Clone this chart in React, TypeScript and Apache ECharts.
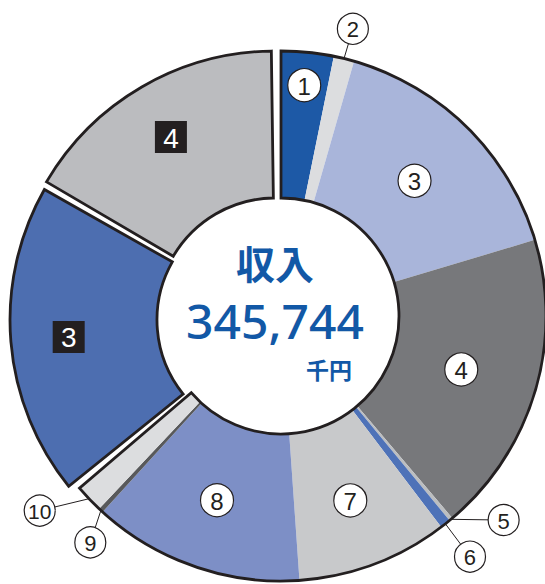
import React, { useEffect, useRef } from 'react';
import * as echarts from 'echarts';

// ---- data ----
const TITLE = '収入';
const TOTAL_TEXT = '345,744';
const UNIT = '千円';

const mainLabels = ['1', '2', '3', '4', '5', '6', '7', '8', '9', '10'];
const mainValues = [11147, 4362, 55541, 64362, 775, 2229, 32181, 44879, 969, 6010];

const splitLabels = ['3', '4'];
const splitValues = [66300, 56989];

// ---- style ----
const W = 545;
const H = 584;
const CX = 281;
const CY = 316;
const R_IN = 118;
const R_OUT = 265;
const INK = '#231f20';
const BLUE_TEXT = '#1258a6';
const BORDER_W = 2.8;

const mainColors = ['#1d59a6', '#dcdddf', '#a9b5da', '#77787b', '#bcbec0', '#4e72b8', '#c8c9cb', '#7d8fc6', '#58595b', '#dcdddf'];
const splitColors = ['#4d6eb0', '#bbbcbf'];
const gapDegrees = [1.6, 0.9, 0.79]; // 10→■3, ■3→■4, ■4→1
const splitShift: [number, number][] = [[-6, 4], [-6, 0]]; // exploded pieces ■3, ■4

const insideLabelRadius: Record<string, number> = { '1': 232, '3': 190, '4': 188, '7': 197, '8': 195 };
const outsidePlacement: Record<string, [number, number]> = {
  '2': [0.3, 296],
  '5': [-7.6, 302],
  '6': [0.2, 306],
  '9': [-2.7, 296],
  '10': [4.7, 310],
};
const SPLIT_LABEL_R = 207;

function polar(deg: number, r: number, cx = CX, cy = CY): [number, number] {
  const a = (deg * Math.PI) / 180;
  return [cx + r * Math.sin(a), cy - r * Math.cos(a)];
}

function buildOption() {
  const dataSum = mainValues.reduce((a, b) => a + b, 0) + splitValues.reduce((a, b) => a + b, 0);
  const gapTotalDeg = gapDegrees.reduce((a, b) => a + b, 0);
  const gapVals = gapDegrees.map((d) => (dataSum * d) / (360 - gapTotalDeg));

  const blank = { color: 'rgba(0,0,0,0)', borderWidth: 0 };
  type Item = { kind: 'main' | 'split' | 'gap'; label: string; value: number; color: string; splitIndex: number };
  const seq: Item[] = [];
  mainValues.forEach((v, i) => seq.push({ kind: 'main', label: mainLabels[i], value: v, color: mainColors[i], splitIndex: -1 }));
  seq.push({ kind: 'gap', label: '', value: gapVals[0], color: '', splitIndex: -1 });
  seq.push({ kind: 'split', label: splitLabels[0], value: splitValues[0], color: splitColors[0], splitIndex: 0 });
  seq.push({ kind: 'gap', label: '', value: gapVals[1], color: '', splitIndex: -1 });
  seq.push({ kind: 'split', label: splitLabels[1], value: splitValues[1], color: splitColors[1], splitIndex: 1 });
  seq.push({ kind: 'gap', label: '', value: gapVals[2], color: '', splitIndex: -1 });

  const total = seq.reduce((a, b) => a + b.value, 0);
  let cum = 0;
  const mids: number[] = seq.map((it) => {
    const s = (cum / total) * 360;
    cum += it.value;
    const e = (cum / total) * 360;
    return (s + e) / 2;
  });

  const mainData = seq.map((it) =>
    it.kind === 'main'
      ? { value: it.value, name: it.label, itemStyle: { color: it.color, borderWidth: 0 } }
      : { value: it.value, name: 'other', itemStyle: blank }
  );

  const mainSum = mainValues.reduce((a, b) => a + b, 0);
  const outlineData = [
    { value: mainSum, name: 'main', itemStyle: { color: 'rgba(0,0,0,0)', borderColor: INK, borderWidth: BORDER_W, borderJoin: 'miter' } },
    { value: total - mainSum, name: 'rest', itemStyle: blank },
  ];

  const common = {
    type: 'pie',
    radius: [R_IN, R_OUT],
    startAngle: 90,
    clockwise: true,
    silent: true,
    label: { show: false },
    labelLine: { show: false },
    emphasis: { disabled: true },
    avoidLabelOverlap: false,
  };

  const splitSeries = splitValues.map((_, k) => ({
    ...common,
    name: 'split' + k,
    center: [CX + splitShift[k][0], CY + splitShift[k][1]],
    z: 4,
    data: seq.map((it) =>
      it.kind === 'split' && it.splitIndex === k
        ? {
            value: it.value,
            name: '■' + it.label,
            itemStyle: { color: it.color, borderColor: INK, borderWidth: BORDER_W, borderJoin: 'miter' },
          }
        : { value: it.value, name: 'other', itemStyle: blank }
    ),
  }));

  const textStyle = (text: string, fill: string, font: string) => ({
    text, fill, font, textAlign: 'center', textVerticalAlign: 'middle', align: 'center', verticalAlign: 'middle',
  });

  const graphics: any[] = [];
  seq.forEach((it, i) => {
    if (it.kind === 'gap') return;
    const mid = mids[i];
    if (it.kind === 'split') {
      const sh = splitShift[it.splitIndex];
      const [x, y] = polar(mid, SPLIT_LABEL_R, CX + sh[0], CY + sh[1]);
      graphics.push({ type: 'rect', z: 20, shape: { x: x - 16, y: y - 16, width: 32, height: 32 }, style: { fill: INK } });
      graphics.push({ type: 'text', z: 21, x, y: y + 1, style: textStyle(it.label, '#fff', '28px "Liberation Sans", Arial, sans-serif') });
      return;
    }
    if (insideLabelRadius[it.label] != null) {
      const [x, y] = polar(mid, insideLabelRadius[it.label]);
      graphics.push({ type: 'circle', z: 20, shape: { cx: x, cy: y, r: 16.5 }, style: { fill: '#fff', stroke: INK, lineWidth: 1.2 } });
      graphics.push({ type: 'text', z: 21, x, y: y + 1, style: textStyle(it.label, INK, '24px "Liberation Sans", Arial, sans-serif') });
    } else if (outsidePlacement[it.label]) {
      const [dth, r] = outsidePlacement[it.label];
      const [x, y] = polar(mid + dth, r);
      const cr = 15.5;
      const [sx, sy] = polar(mid, R_OUT);
      const dx = sx - x;
      const dy = sy - y;
      const len = Math.sqrt(dx * dx + dy * dy);
      graphics.push({
        type: 'line', z: 19,
        shape: { x1: sx, y1: sy, x2: x + (dx / len) * cr, y2: y + (dy / len) * cr },
        style: { stroke: INK, lineWidth: 1 },
      });
      graphics.push({ type: 'circle', z: 20, shape: { cx: x, cy: y, r: cr }, style: { fill: '#fff', stroke: INK, lineWidth: 1.2 } });
      graphics.push({
        type: 'text', z: 21, x, y: y + 1,
        style: textStyle(it.label, INK, (it.label.length > 1 ? '21px' : '22px') + ' "Liberation Sans", Arial, sans-serif'),
      });
    }
  });

  graphics.push({ type: 'text', z: 30, x: 275, y: 262, style: textStyle(TITLE, BLUE_TEXT, 'bold 39px "Noto Sans CJK JP", sans-serif') });
  graphics.push({ type: 'text', z: 30, x: 275, y: 320, style: textStyle(TOTAL_TEXT, BLUE_TEXT, '500 48px "Noto Sans", "Open Sans", sans-serif') });
  graphics.push({ type: 'text', z: 30, x: 329, y: 369, style: textStyle(UNIT, BLUE_TEXT, 'bold 23px "Noto Sans CJK JP", sans-serif') });

  return {
    animation: false,
    backgroundColor: '#ffffff',
    series: [
      { ...common, name: 'segments', center: [CX, CY], data: mainData, z: 2 },
      { ...common, name: 'outline', center: [CX, CY], data: outlineData, z: 3 },
      ...splitSeries,
    ],
    graphic: { elements: graphics },
  };
}

export default function App() {
  const ref = useRef<HTMLDivElement>(null);
  useEffect(() => {
    if (!ref.current) return;
    const chart = echarts.init(ref.current, undefined, { renderer: 'svg', width: W, height: H });
    chart.setOption(buildOption() as any);
    return () => chart.dispose();
  }, []);
  return (
    <div
      ref={ref}
      style={{ position: 'fixed', left: 0, top: 0, width: W, height: H, background: '#fff' }}
    />
  );
}
